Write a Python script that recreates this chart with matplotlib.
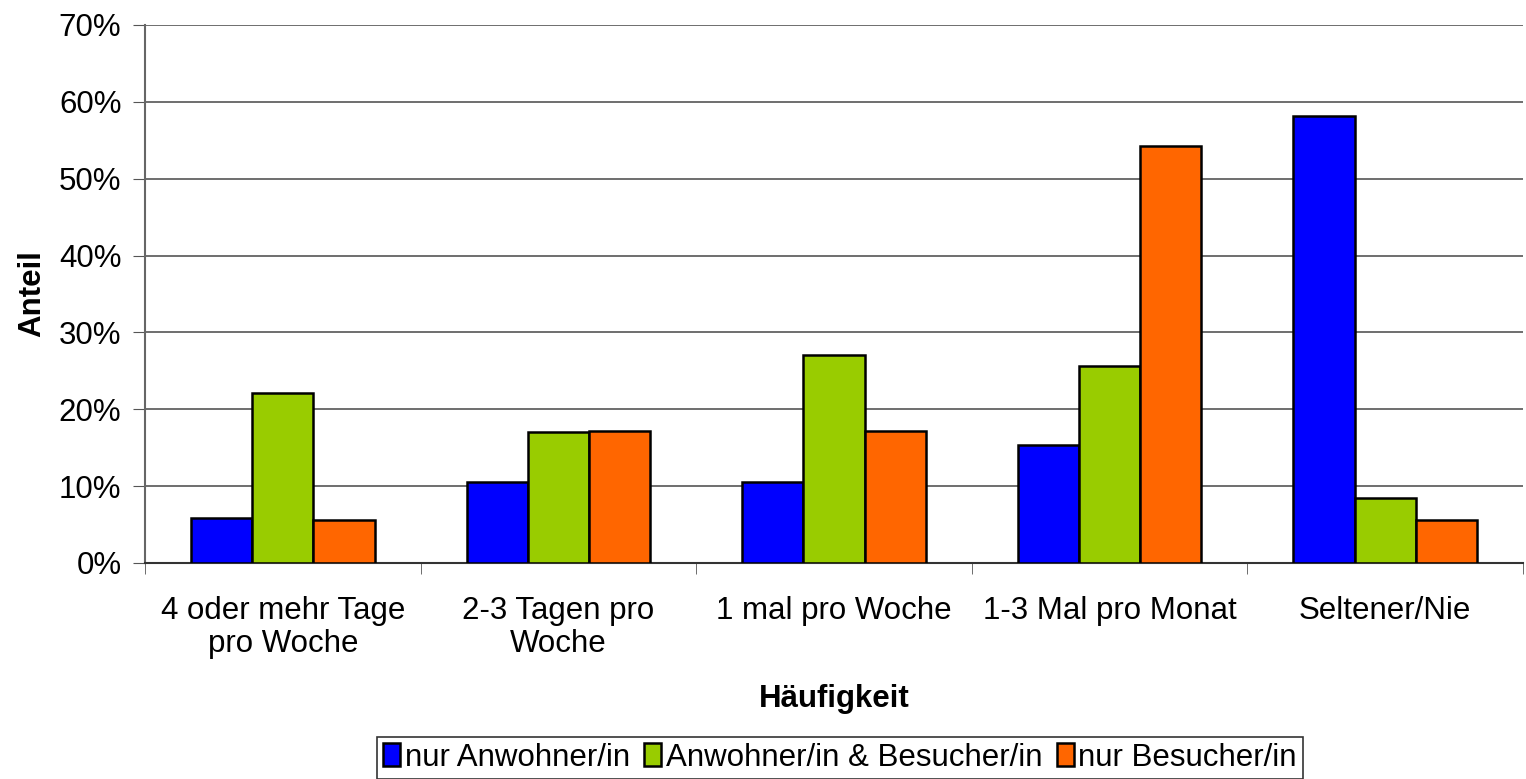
import matplotlib.pyplot as plt
import matplotlib
import numpy as np

matplotlib.rcParams['font.family'] = ['Liberation Sans', 'DejaVu Sans']
matplotlib.rcParams['font.size'] = 22.5

categories = ['4 oder mehr Tage\npro Woche', '2-3 Tagen pro\nWoche', '1 mal pro Woche',
              '1-3 Mal pro Monat', 'Seltener/Nie']
nur_anwohner = [5.9, 10.6, 10.6, 15.3, 58.2]
anwohner_besucher = [22.1, 17.1, 27.0, 25.6, 8.4]
nur_besucher = [5.6, 17.2, 17.2, 54.3, 5.6]
series_names = ['nur Anwohner/in', 'Anwohner/in & Besucher/in', 'nur Besucher/in']
colors = ['#0000FF', '#99CC00', '#FF6600']

fig = plt.figure(figsize=(15.26, 7.79), dpi=100)
ax = fig.add_axes([145/1526, 1-563/779, (1523-145)/1526, (563-25)/779])

x = np.arange(len(categories))
w = 0.222
for i, (vals, name, c) in enumerate(zip([nur_anwohner, anwohner_besucher, nur_besucher], series_names, colors)):
    ax.bar(x + (i-1)*w, vals, w, color=c, edgecolor='black', linewidth=1.8, label=name, zorder=3)

ax.set_xlim(-0.5, len(categories)-0.5)
ax.set_ylim(0, 70)
ax.set_yticks(np.arange(0, 71, 10))
ax.set_yticklabels([f'{v}%' for v in range(0, 71, 10)])
ax.yaxis.grid(True, color='#555555', linewidth=1.2, zorder=0)
ax.set_xticks(x)
ax.set_xticklabels(categories, linespacing=1.1)
ax.tick_params(axis='x', length=0, pad=24)
ax.set_xticks(np.arange(-0.5, len(categories)), minor=True)
ax.tick_params(axis='x', which='minor', length=8, color='#555555')
ax.tick_params(axis='y', length=9, color='#555555', pad=8)

for s in ['top', 'right']:
    ax.spines[s].set_visible(False)
ax.spines['left'].set_color('#666666')
ax.spines['left'].set_linewidth(1.5)
ax.spines['bottom'].set_color('#333333')
ax.spines['bottom'].set_linewidth(1.5)

ax.set_xlabel('Häufigkeit', fontweight='bold', labelpad=18)
ax.set_ylabel('Anteil', fontweight='bold', labelpad=8)

leg = fig.legend(loc='lower center', bbox_to_anchor=(840/1526, 0.0), ncol=3,
                 frameon=True, fancybox=False, edgecolor='black',
                 handlelength=0.55, handleheight=0.75, handletextpad=0.15,
                 columnspacing=0.45, borderpad=0.2, borderaxespad=0)
leg.get_frame().set_linewidth(1.2)

plt.savefig('out.png', dpi=100)
